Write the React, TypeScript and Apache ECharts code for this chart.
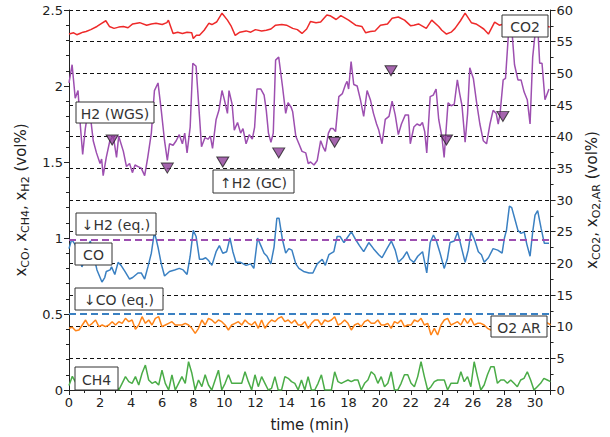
import React, { useEffect, useRef } from 'react';
import * as echarts from 'echarts';

// ---------- data ----------
const T_STEP = 31 / 145; // sampling step (min) of the O2 AR and CH4 traces

const co2Data: [number, number][] = [
  [0, 56.2], [0.3, 56.4], [0.5, 56.1], [0.7, 56.3], [0.9, 56.5], [1.1, 56.6], [1.4, 56.9], [1.8, 57.4],
  [2.1, 57.9], [2.37, 58.3], [2.6, 57.4], [2.9, 57.1], [3.2, 57.3], [3.5, 57.4], [3.8, 57.2], [4.1, 57.8],
  [4.55, 58.0], [5.0, 57.6], [5.3, 57.8], [5.6, 57.9], [6.0, 57.7], [6.3, 58.0], [6.4, 58.4], [6.7, 56.3],
  [7.0, 56.5], [7.3, 56.3], [7.6, 56.5], [7.9, 56.4], [8.0, 55.5], [8.2, 56.0], [8.4, 56.0], [8.7, 56.8],
  [9.0, 57.9], [9.2, 57.7], [9.5, 58.1], [9.85, 59.5], [10.2, 58.4], [10.45, 57.4], [10.7, 56.0], [11.0, 56.5],
  [11.4, 56.7], [11.7, 56.5], [12.0, 56.9], [12.4, 56.7], [12.7, 56.8], [13.0, 57.0], [13.3, 57.6], [13.7, 57.7],
  [14.0, 57.6], [14.4, 57.1], [14.7, 56.9], [15.0, 56.3], [15.3, 57.0], [15.55, 58.2], [15.9, 58.0], [16.2, 58.1],
  [16.6, 59.2], [16.8, 59.1], [17.2, 58.5], [17.5, 59.1], [18.0, 58.4], [18.45, 57.6], [18.85, 57.4], [19.1, 56.4],
  [19.4, 56.6], [19.7, 56.7], [20.05, 57.6], [20.5, 57.8], [20.8, 58.7], [21.2, 58.9], [21.6, 58.4], [22.0, 57.5],
  [22.2, 57.6], [22.5, 57.8], [23.0, 57.1], [23.35, 58.4], [23.8, 57.4], [24.0, 56.8], [24.3, 56.2], [24.6, 56.5],
  [24.85, 57.1], [25.2, 58.3], [25.5, 59.5], [25.9, 58.0], [26.2, 57.8], [26.45, 57.4], [26.7, 57.0], [27.0, 56.2],
  [27.4, 58.1], [27.7, 57.6], [28.0, 57.8], [28.4, 57.5], [28.8, 57.9], [29.2, 57.6], [29.6, 57.8], [30.0, 57.4],
  [30.3, 57.9], [30.6, 57.6], [30.95, 57.3],
];

const h2WgsData: [number, number][] = [
  [0, 2.02], [0.2, 2.14], [0.4, 1.92], [0.58, 1.97], [0.73, 1.74], [0.88, 1.55], [1.05, 1.72], [1.2, 1.82],
  [1.4, 1.78], [1.56, 1.64], [1.77, 1.56], [2.0, 1.49], [2.1, 1.52], [2.2, 1.41], [2.4, 1.53], [2.63, 1.64],
  [2.85, 1.67], [3.06, 1.53], [3.2, 1.67], [3.5, 1.57], [3.7, 1.47], [3.9, 1.49], [4.08, 1.43], [4.25, 1.48],
  [4.45, 1.47], [4.65, 1.46], [4.87, 1.41], [5.07, 1.53], [5.3, 1.69], [5.5, 1.97], [5.73, 2.02], [5.94, 1.84],
  [6.15, 1.64], [6.33, 1.51], [6.47, 1.62], [6.7, 1.61], [6.9, 1.64], [7.1, 1.68], [7.3, 1.62], [7.45, 1.69],
  [7.6, 1.56], [7.8, 1.73], [7.97, 2.15], [8.18, 2.13], [8.4, 1.8], [8.53, 1.6], [8.75, 1.66], [8.95, 1.65],
  [9.1, 1.67], [9.24, 1.59], [9.47, 1.78], [9.65, 1.84], [9.85, 1.97], [10.0, 1.91], [10.2, 1.82], [10.3, 1.97],
  [10.5, 1.88], [10.64, 1.71], [10.85, 1.76], [11.05, 1.69], [11.2, 1.72], [11.4, 1.62], [11.6, 1.68], [11.8, 1.65],
  [11.95, 1.73], [12.1, 1.98], [12.35, 1.98], [12.56, 1.94], [12.7, 1.84], [12.84, 1.69], [13.0, 1.63], [13.15, 1.69],
  [13.3, 2.17], [13.5, 2.19], [13.74, 2.0], [13.95, 1.82], [14.1, 1.89], [14.3, 1.86], [14.4, 1.83], [14.6, 1.67],
  [14.8, 1.62], [15.0, 1.57], [15.24, 1.56], [15.4, 1.49], [15.55, 1.5], [15.77, 1.48], [15.98, 1.51], [16.2, 1.64],
  [16.35, 1.6], [16.5, 1.57], [16.7, 1.69], [16.84, 1.72], [17.0, 1.72], [17.16, 1.7], [17.37, 1.93], [17.6, 1.95],
  [17.8, 2.01], [17.9, 2.03], [18.0, 1.98], [18.16, 2.16], [18.33, 2.01], [18.55, 2.0], [18.76, 1.91], [18.97, 1.8],
  [19.19, 1.97], [19.4, 1.91], [19.6, 1.82], [19.8, 1.75], [19.94, 1.71], [20.15, 1.62], [20.36, 1.78], [20.6, 1.8],
  [20.8, 1.9], [21.0, 1.81], [21.2, 1.68], [21.4, 1.75], [21.65, 1.81], [21.85, 1.81], [21.97, 1.62], [22.2, 1.73],
  [22.4, 1.75], [22.6, 1.74], [22.75, 1.76], [22.9, 1.7], [23.03, 1.56], [23.25, 1.93], [23.45, 1.94], [23.63, 1.98],
  [23.8, 1.78], [24.0, 1.67], [24.15, 1.53], [24.4, 1.89], [24.6, 1.87], [24.8, 1.88], [25.0, 2.04], [25.15, 1.95],
  [25.3, 1.87], [25.5, 1.63], [25.66, 1.82], [25.8, 2.12], [26.03, 2.05], [26.24, 1.89], [26.45, 1.75], [26.67, 1.64],
  [26.88, 1.62], [27.1, 1.75], [27.3, 1.84], [27.5, 1.82], [27.63, 1.75], [27.75, 1.82], [27.95, 2.04], [28.1, 2.05],
  [28.3, 2.36], [28.45, 2.45], [28.68, 2.14], [28.9, 2.04], [29.1, 2.04], [29.3, 1.96], [29.5, 1.91], [29.68, 1.75],
  [29.85, 2.19], [30.02, 2.36], [30.15, 2.44], [30.3, 2.15], [30.45, 2.15], [30.64, 1.91], [30.9, 1.98],
];

const h2GcData: [number, number][] = [
  [2.78, 1.645], [6.33, 1.46], [9.9, 1.5], [13.5, 1.56], [17.1, 1.63], [20.73, 2.1], [24.3, 1.645], [27.93, 1.8],
];

const coData: [number, number][] = [
  [0, 0.93], [0.17, 0.99], [0.38, 0.96], [0.55, 0.93], [0.7, 0.86], [0.83, 0.81], [1.0, 0.85], [1.2, 0.93],
  [1.37, 0.98], [1.55, 0.9], [1.8, 0.79], [2.12, 0.71], [2.3, 0.74], [2.4, 0.78], [2.65, 0.79], [2.74, 0.81],
  [2.95, 0.76], [3.16, 0.84], [3.35, 0.82], [3.6, 0.78], [3.9, 0.73], [4.1, 0.74], [4.44, 0.77], [4.65, 0.77],
  [4.87, 0.73], [5.08, 0.81], [5.3, 0.9], [5.5, 1.04], [5.73, 0.94], [5.94, 0.83], [6.15, 0.75], [6.47, 0.78],
  [6.8, 0.79], [7.1, 0.8], [7.35, 0.79], [7.6, 0.76], [7.8, 0.88], [8.0, 1.05], [8.18, 1.01], [8.4, 0.86],
  [8.6, 0.86], [8.8, 0.87], [9.0, 0.85], [9.2, 0.82], [9.47, 0.91], [9.68, 0.95], [9.9, 0.9], [10.15, 0.91],
  [10.36, 1.0], [10.55, 0.91], [10.75, 0.84], [11.05, 0.84], [11.4, 0.82], [11.7, 0.83], [11.9, 0.8], [12.14, 1.0],
  [12.35, 0.95], [12.56, 0.9], [12.75, 0.88], [12.99, 0.83], [13.2, 0.94], [13.38, 1.13], [13.52, 1.13], [13.74, 0.99],
  [13.95, 0.9], [14.15, 0.93], [14.35, 0.92], [14.6, 0.83], [14.8, 0.8], [15.1, 0.78], [15.45, 0.77], [15.7, 0.77],
  [15.98, 0.83], [16.3, 0.86], [16.5, 0.82], [16.73, 0.89], [17.05, 0.91], [17.26, 1.01], [17.45, 1.01], [17.7, 0.97],
  [17.9, 1.0], [18.18, 1.04], [18.45, 0.99], [18.7, 0.95], [18.97, 0.91], [19.3, 0.97], [19.6, 0.93], [19.94, 0.89],
  [20.15, 0.87], [20.47, 0.93], [20.75, 0.98], [21.0, 0.92], [21.2, 0.84], [21.5, 0.87], [21.75, 0.91], [21.95, 0.86],
  [22.2, 0.84], [22.45, 0.88], [22.76, 0.91], [23.03, 0.77], [23.25, 0.97], [23.46, 1.02], [23.65, 0.98], [23.89, 0.9],
  [24.15, 0.8], [24.35, 0.86], [24.53, 0.97], [24.8, 0.98], [25.02, 1.04], [25.28, 0.93], [25.5, 0.84], [25.7, 0.92],
  [25.88, 1.04], [26.1, 0.99], [26.35, 0.91], [26.55, 0.89], [26.73, 0.84], [27.0, 0.87], [27.3, 0.93], [27.6, 0.92],
  [27.88, 0.9], [28.03, 1.0], [28.16, 1.05], [28.35, 1.21], [28.5, 1.2], [28.74, 1.11], [28.9, 1.05], [29.1, 1.03],
  [29.3, 1.04], [29.47, 0.96], [29.68, 0.88], [29.85, 1.04], [30.0, 1.15], [30.17, 1.18], [30.4, 1.06], [30.6, 0.965],
  [30.9, 0.965],
];

const o2ArValues: number[] = [
  9.74, 9.9, 9.37, 9.47, 10.26, 11.05, 10.1, 10.53, 11.05, 10.0, 10.26, 10.0, 10.26, 10.79, 10.26, 10.79,
  10.53, 11.32, 10.79, 11.05, 9.58, 10.26, 11.58, 10.53, 11.05, 10.26, 11.32, 11.58, 10.0, 10.26, 10.53, 10.79,
  10.26, 10.26, 10.26, 10.53, 10.26, 9.74, 8.95, 9.74, 11.05, 10.26, 11.32, 11.05, 10.53, 11.05, 10.79, 10.26,
  9.47, 10.26, 10.53, 10.79, 10.26, 11.05, 10.53, 10.26, 10.79, 9.74, 11.05, 9.74, 10.53, 11.05, 10.79, 11.32,
  11.58, 10.79, 11.05, 10.53, 11.05, 10.26, 10.26, 10.79, 9.74,
  10.53, 11.05, 11.05, 10.26, 11.05, 10.79, 11.05, 11.58, 10.26, 10.53, 11.05, 10.53, 9.47, 10.26, 10.53, 10.0,
  10.79, 11.05, 10.53, 10.53, 11.05, 10.26, 10.26, 10.53, 9.74, 10.79, 10.53, 11.05, 10.0, 10.26, 10.26, 11.05,
  10.79, 11.32, 10.26, 10.53, 8.68, 9.74, 8.68, 10.26, 11.05, 11.32, 10.26, 10.53, 10.79, 10.26, 11.32, 10.53,
  11.32, 10.26, 10.53, 10.53, 10.26, 9.74, 9.47,
  9.6, 9.7, 10.0, 10.3, 10.1, 10.5, 10.2, 10.4, 10.0, 10.3, 10.6, 10.2, 10.4, 10.1, 10.3, 10.5, 10.6, 10.3,
];

const ch4Values: number[] = [
  0.03, 0.09,
  0.05, 0.1, 0.03, 0.08, 0.12, 0.04, 0.09, 0.02, 0.11, 0.06, 0.03, 0.09, 0.04,
  0.0,
  0.044, 0.088, 0.055, 0.044, 0.088, 0.033, 0.11, 0.164, 0.066, 0.044, 0.055, 0.033, 0.13, 0.044, 0.0, 0.1,
  0.0, 0.044, 0.088, 0.044, 0.186, 0.11, 0.0, 0.066, 0.022, 0.1, 0.033, 0.0, 0.066, 0.13, 0.0, 0.044,
  0.1, 0.044, 0.044, 0.044, 0.044, 0.12, 0.055, 0.0, 0.1, 0.022, 0.088, 0.044, 0.0, 0.011, 0.088, 0.0,
  0.0, 0.088, 0.077, 0.055, 0.044, 0.0, 0.066, 0.0, 0.088,
  0.0, 0.0, 0.044, 0.1, 0.0, 0.0, 0.0, 0.12, 0.055, 0.044, 0.055, 0.066, 0.055, 0.066, 0.066, 0.0,
  0.044, 0.066, 0.12, 0.1, 0.044, 0.088, 0.022, 0.044, 0.12, 0.0, 0.0, 0.044, 0.1, 0.1, 0.044, 0.022,
  0.088, 0.186, 0.088, 0.0, 0.022, 0.055, 0.066, 0.066, 0.066, 0.0, 0.044, 0.044, 0.044, 0.12, 0.055, 0.088,
  0.022, 0.186, 0.088, 0.0, 0.033, 0.1, 0.153, 0.153, 0.044, 0.066, 0.066, 0.044, 0.066, 0.044, 0.022, 0.066,
  0.077, 0.12, 0.066, 0.0, 0.022, 0.044, 0.077, 0.066, 0.055,
];

const H2_EQ = 0.99;
const CO_EQ = 0.5;

const annotations = [
  { text: 'H2 (WGS)', x: 76, y: 102, w: 78, h: 21 },
  { text: '\u2191H2 (GC)', x: 213, y: 170, w: 81, h: 23 },
  { text: 'CO2', x: 502, y: 15, w: 46, h: 22 },
  { text: '\u2193H2 (eq.)', x: 76, y: 213, w: 80, h: 22 },
  { text: 'CO', x: 75, y: 243, w: 37, h: 22 },
  { text: '\u2193CO (eq.)', x: 75, y: 288, w: 88, h: 22 },
  { text: 'O2 AR', x: 491, y: 316, w: 56, h: 21 },
  { text: 'CH4', x: 75, y: 367, w: 43, h: 23 },
];

const FONT = 'DejaVu Sans';
const TXT = '#222';
const C_RED = '#ee2a2a';
const C_PURPLE = '#9d4fb0';
const C_BLUE = '#3a80c2';
const C_ORANGE = '#ff8418';
const C_GREEN = '#4aac47';

export default function App() {
  const ref = useRef<HTMLDivElement>(null);

  useEffect(() => {
    document.body.style.margin = '0';
    const chart = echarts.init(ref.current!, null, { renderer: 'svg' });

    const o2Data = o2ArValues.map((v, i) => [i * T_STEP, v]);
    const ch4Data = ch4Values.map((v, i) => [i * T_STEP, v]);

    const axisLine = { show: true, lineStyle: { color: '#222', width: 1 } };
    const label = { color: TXT, fontSize: 13, fontFamily: FONT };

    const option: any = {
      animation: false,
      backgroundColor: '#fff',
      grid: { left: 69, right: 58, top: 10, bottom: 47, containLabel: false },
      xAxis: {
        type: 'value',
        min: 0,
        max: 31,
        interval: 2,
        axisLine,
        axisTick: { show: true, inside: false, length: 5, lineStyle: { color: '#222' } },
        minorTick: { show: true, splitNumber: 2, length: 3, lineStyle: { color: '#222' } },
        axisLabel: { ...label, margin: 6, showMaxLabel: false },
        splitLine: { show: false },
        name: 'time (min)',
        nameLocation: 'middle',
        nameGap: 27,
        nameTextStyle: { color: TXT, fontSize: 15, fontFamily: FONT },
      },
      yAxis: [
        {
          type: 'value',
          min: 0,
          max: 2.5,
          interval: 0.5,
          position: 'left',
          axisLine,
          axisTick: { show: true, inside: false, length: 5, lineStyle: { color: '#222' } },
          minorTick: { show: true, splitNumber: 5, length: 3, lineStyle: { color: '#222' } },
          axisLabel: { ...label, margin: 6 },
          splitLine: { show: false },
          name: '{m|x}{s|CO}{m|, x}{s|CH4}{m|, x}{s|H2}{m| (vol%)}',
          nameLocation: 'middle',
          nameRotate: 90,
          nameGap: 36,
          nameTextStyle: {
            rich: {
              m: { fontSize: 15, fontFamily: FONT, color: TXT },
              s: { fontSize: 11, fontFamily: FONT, color: TXT, padding: [10, 0, 0, 0] },
            },
          },
        },
        {
          type: 'value',
          min: 0,
          max: 60,
          interval: 5,
          position: 'right',
          axisLine,
          axisTick: { show: true, inside: false, length: 5, lineStyle: { color: '#222' } },
          minorTick: { show: true, splitNumber: 2, length: 3, lineStyle: { color: '#222' } },
          axisLabel: { ...label, margin: 6 },
          splitLine: { show: true, lineStyle: { color: '#111', type: [4, 3], width: 1 } },
          name: '{m|x}{s|CO2}{m|, x}{s|O2,AR}{m| (vol%)}',
          nameLocation: 'middle',
          nameRotate: 90,
          nameGap: 30,
          nameTextStyle: {
            rich: {
              m: { fontSize: 15, fontFamily: FONT, color: TXT },
              s: { fontSize: 11, fontFamily: FONT, color: TXT, padding: [10, 0, 0, 0] },
            },
          },
        },
      ],
      series: [
        {
          name: 'CO2',
          type: 'line',
          yAxisIndex: 1,
          data: co2Data,
          showSymbol: false,
          symbol: 'none',
          lineStyle: { color: C_RED, width: 1.5 },
          z: 3,
        },
        {
          name: 'H2 (WGS)',
          type: 'line',
          yAxisIndex: 0,
          data: h2WgsData,
          symbol: 'none',
          lineStyle: { color: C_PURPLE, width: 1.5 },
          markLine: {
            silent: true,
            symbol: ['none', 'none'],
            label: { show: false },
            lineStyle: { color: C_PURPLE, type: [7, 4], width: 2 },
            data: [{ yAxis: H2_EQ }],
          },
          z: 3,
        },
        {
          name: 'CO',
          type: 'line',
          yAxisIndex: 0,
          data: coData,
          symbol: 'none',
          lineStyle: { color: C_BLUE, width: 1.5 },
          markLine: {
            silent: true,
            symbol: ['none', 'none'],
            label: { show: false },
            lineStyle: { color: C_BLUE, type: [7, 4], width: 2 },
            data: [{ yAxis: CO_EQ }],
          },
          z: 3,
        },
        {
          name: 'O2 AR',
          type: 'line',
          yAxisIndex: 1,
          data: o2Data,
          symbol: 'none',
          lineStyle: { color: C_ORANGE, width: 1.5 },
          z: 3,
        },
        {
          name: 'CH4',
          type: 'line',
          yAxisIndex: 0,
          data: ch4Data,
          symbol: 'none',
          lineStyle: { color: C_GREEN, width: 1.5 },
          z: 3,
        },
        {
          name: 'H2 (GC)',
          type: 'scatter',
          yAxisIndex: 0,
          data: h2GcData,
          symbol: 'triangle',
          symbolRotate: 180,
          symbolSize: [12, 10],
          itemStyle: { color: '#8e3f9a', borderColor: '#222', borderWidth: 1 },
          z: 4,
        },
      ],
      graphic: annotations.flatMap((a) => [
        {
          type: 'rect',
          shape: { x: a.x, y: a.y, width: a.w, height: a.h },
          style: { fill: '#fff', stroke: '#333', lineWidth: 1 },
          z: 100,
        },
        {
          type: 'text',
          x: a.x + a.w / 2,
          y: a.y + a.h / 2 + 1,
          style: {
            text: a.text,
            fill: '#333',
            fontSize: 14,
            fontFamily: FONT,
            align: 'center',
            verticalAlign: 'middle',
          },
          z: 101,
        },
      ]),
    };

    chart.setOption(option);
    return () => chart.dispose();
  }, []);

  return <div ref={ref} style={{ width: 610, height: 437 }} />;
}
